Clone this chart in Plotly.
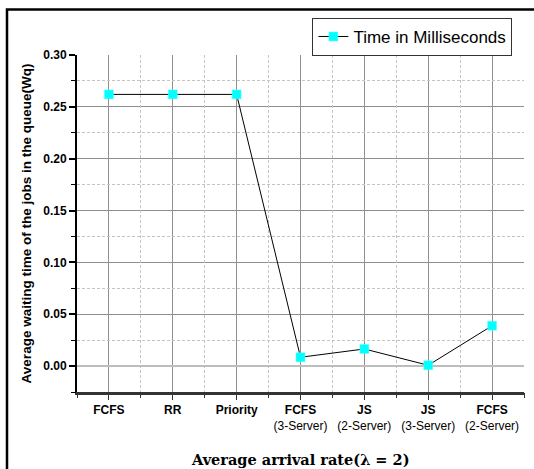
import plotly.graph_objects as go

categories = ["FCFS", "RR", "Priority", "FCFS (3-Server)", "JS (2-Server)", "JS (3-Server)", "FCFS (2-Server)"]
tick_labels = ["<b>FCFS</b>", "<b>RR</b>", "<b>Priority</b>",
               "<b>FCFS</b><br>(3-Server)", "<b>JS</b><br>(2-Server)",
               "<b>JS</b><br>(3-Server)", "<b>FCFS</b><br>(2-Server)"]
wq_values = [0.262, 0.262, 0.262, 0.0085, 0.0165, 0.0008, 0.0389]
series_name = "Time in Milliseconds"
y_major = [0.00, 0.05, 0.10, 0.15, 0.20, 0.25, 0.30]
y_minor = [-0.025, 0.025, 0.075, 0.125, 0.175, 0.225, 0.275]

x_pos = list(range(len(categories)))
half_pos = [i - 0.5 for i in range(len(categories) + 1)]
x_range = [-0.5, 6.5]
y_range = [-0.025, 0.30]

fig = go.Figure()
# invisible helper trace so the overlay (minor grid) axes are drawn
fig.add_trace(go.Scatter(x=[x_pos[0]], y=[wq_values[0]], xaxis="x2", yaxis="y2",
                         mode="markers", marker=dict(opacity=0), showlegend=False,
                         hoverinfo="skip"))
fig.add_trace(go.Scatter(
    x=x_pos, y=wq_values, mode="lines+markers", name=series_name,
    line=dict(color="black", width=1),
    marker=dict(symbol="square", size=9, color="#00FFFF",
                line=dict(color="#66ffff", width=0.5)),
    hovertext=categories,
))

fig.update_layout(
    width=534, height=469,
    margin=dict(l=77, r=10, t=55, b=77),
    paper_bgcolor="white", plot_bgcolor="white",
    font=dict(family="Liberation Sans, Arial", color="black"),
    showlegend=True,
    legend=dict(x=0.974, y=1.11, xanchor="right", yanchor="top",
                bordercolor="#333", borderwidth=1, bgcolor="white",
                font=dict(size=17, family="Liberation Sans, Arial"),
                itemwidth=30, tracegroupgap=0),
    xaxis2=dict(
        range=x_range, overlaying="x", anchor="y", side="bottom",
        tickmode="array", tickvals=half_pos, showticklabels=False,
        showgrid=True, gridcolor="#c4c4c4", griddash="3px,2px", gridwidth=1,
        ticks="outside", ticklen=5, tickcolor="#333333", tickwidth=1,
        zeroline=False, showline=False,
    ),
    yaxis2=dict(
        range=y_range, overlaying="y", anchor="x", side="left",
        tickmode="array", tickvals=y_minor, showticklabels=False,
        showgrid=True, gridcolor="#c4c4c4", griddash="3px,2px", gridwidth=1,
        ticks="outside", ticklen=5, tickcolor="black", tickwidth=1,
        zeroline=False, showline=False,
    ),
    xaxis=dict(
        range=x_range, tickmode="array", tickvals=x_pos, ticktext=tick_labels,
        showgrid=True, gridcolor="#8f8f8f", gridwidth=1.3,
        showline=True, linecolor="#333333", linewidth=3,
        ticks="outside", ticklen=5, tickcolor="#333333", tickwidth=1,
        tickfont=dict(size=12, family="Liberation Sans, Arial"),
        zeroline=False,
    ),
    yaxis=dict(
        range=y_range, tickmode="array", tickvals=y_major, tickformat=".2f",
        showgrid=True, gridcolor="#8f8f8f", gridwidth=1.3,
        showline=True, linecolor="black", linewidth=2,
        ticks="outside", ticklen=6, tickcolor="black", tickwidth=1.5,
        tickfont=dict(size=12, family="Liberation Sans, Arial", weight="bold"),
        zeroline=True, zerolinecolor="#bdbdbd", zerolinewidth=2,
        title=dict(text="<b>Average waiting time of the jobs in the queue(Wq)</b>",
                   font=dict(size=13.5, family="Liberation Sans, Arial"), standoff=9),
    ),
    shapes=[dict(type="rect", xref="paper", yref="paper",
                 x0=-0.1566, x1=1.5, y0=-1.0, y1=1.135,
                 line=dict(color="black", width=2.5), layer="above")],
    annotations=[dict(text="<b>Average arrival rate(λ = 2)</b>", xref="paper", yref="paper",
                      x=0.5, y=-0.2017, xanchor="center", yanchor="middle", showarrow=False,
                      font=dict(size=14.5, family="DejaVu Serif", color="black"))],
)

fig.write_html("out.html")
